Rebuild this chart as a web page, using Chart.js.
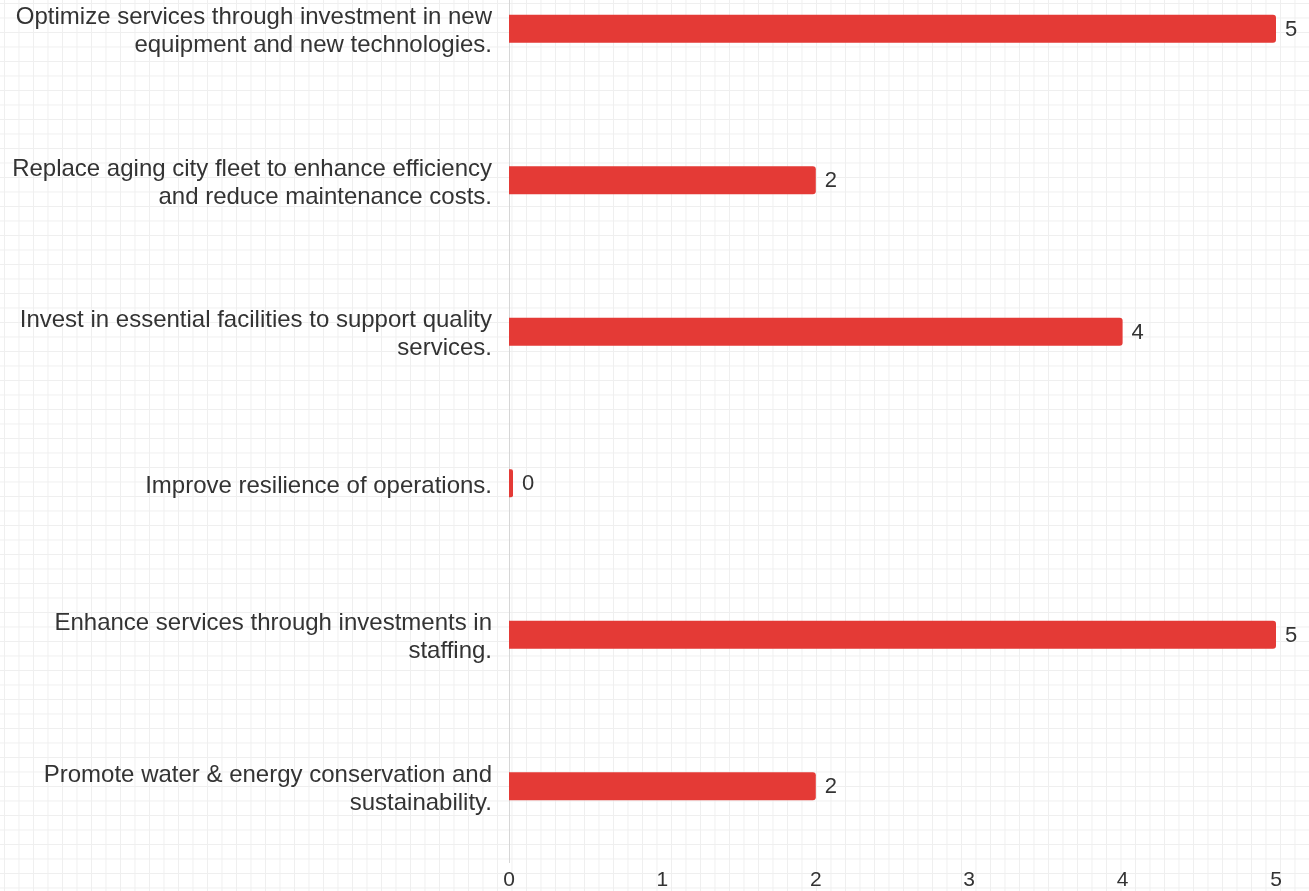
<!DOCTYPE html>
<html>
<head>
<meta charset="utf-8">
<script src="https://cdn.jsdelivr.net/npm/chart.js@4.4.1/dist/chart.umd.min.js"></script>
<style>
  html, body {
    margin: 0;
    padding: 0;
    width: 1309px;
    height: 891px;
    overflow: hidden;
    background-color: #ffffff;
    background-image:
      linear-gradient(to right, #efefef 1px, transparent 1px),
      linear-gradient(to bottom, #efefef 1px, transparent 1px);
    background-size: 14.5px 14.5px;
    background-position: 4px 3px;
  }
  #wrap {
    position: absolute;
    left: 0;
    top: -47px;
    width: 1309px;
    height: 938px;
  }
</style>
</head>
<body>
<div id="wrap"><canvas id="chart"></canvas></div>
<script>
  // categories (wrapped as in the picture) and values
  var categories = [
    ['Optimize services through investment in new', 'equipment and new technologies.'],
    ['Replace aging city fleet to enhance efficiency', 'and reduce maintenance costs.'],
    ['Invest in essential facilities to support quality', 'services.'],
    ['Improve resilience of operations.'],
    ['Enhance services through investments in', 'staffing.'],
    ['Promote water & energy conservation and', 'sustainability.']
  ];
  var values = [5, 2, 4, 0, 5, 2];
  var xTicks = [0, 1, 2, 3, 4, 5];

  var BAR_COLOR = '#e43a36';
  var TEXT_COLOR = '#333333';
  var FONT = '"Liberation Sans", Arial, sans-serif';

  // draw the value next to the end of each bar
  var valueLabels = {
    id: 'valueLabels',
    afterDatasetsDraw: function (chart) {
      var ctx = chart.ctx;
      var meta = chart.getDatasetMeta(0);
      ctx.save();
      ctx.font = '22px ' + FONT;
      ctx.fillStyle = TEXT_COLOR;
      ctx.textAlign = 'left';
      ctx.textBaseline = 'middle';
      meta.data.forEach(function (bar, i) {
        var right = Math.max(bar.x, bar.base + 4);
        ctx.fillText(String(values[i]), right + 9, bar.y + 1);
      });
      ctx.restore();
    }
  };

  new Chart(document.getElementById('chart'), {
    type: 'bar',
    data: {
      labels: categories,
      datasets: [{
        data: values,
        backgroundColor: BAR_COLOR,
        borderWidth: 0,
        borderRadius: 3,
        borderSkipped: 'start',
        minBarLength: 4,
        maxBarThickness: 28,
        barPercentage: 0.9,
        categoryPercentage: 0.8
      }]
    },
    options: {
      indexAxis: 'y',
      responsive: true,
      maintainAspectRatio: false,
      animation: false,
      layout: { padding: { top: 0, right: 33, bottom: 0, left: 0 } },
      plugins: {
        legend: { display: false },
        tooltip: { enabled: false }
      },
      scales: {
        x: {
          min: 0,
          max: 5,
          afterBuildTicks: function (axis) {
            axis.ticks = xTicks.map(function (v) { return { value: v }; });
          },
          afterFit: function (axis) {
            axis.height = 29;
            axis.paddingLeft = 0;
            axis.paddingRight = 0;
          },
          grid: { display: false, drawTicks: false },
          border: { display: false },
          ticks: {
            color: TEXT_COLOR,
            padding: 6,
            font: { family: FONT, size: 21 }
          }
        },
        y: {
          afterFit: function (axis) {
            axis.width = 509;
            axis.paddingTop = 0;
            axis.paddingBottom = 0;
          },
          grid: { display: false, drawTicks: false },
          border: { display: true, color: '#d6d6d6', dash: [2, 6] },
          ticks: {
            color: TEXT_COLOR,
            padding: 17,
            labelOffset: 3,
            font: { family: FONT, size: 24, lineHeight: 1.17 }
          }
        }
      }
    },
    plugins: [valueLabels]
  });
</script>
</body>
</html>
